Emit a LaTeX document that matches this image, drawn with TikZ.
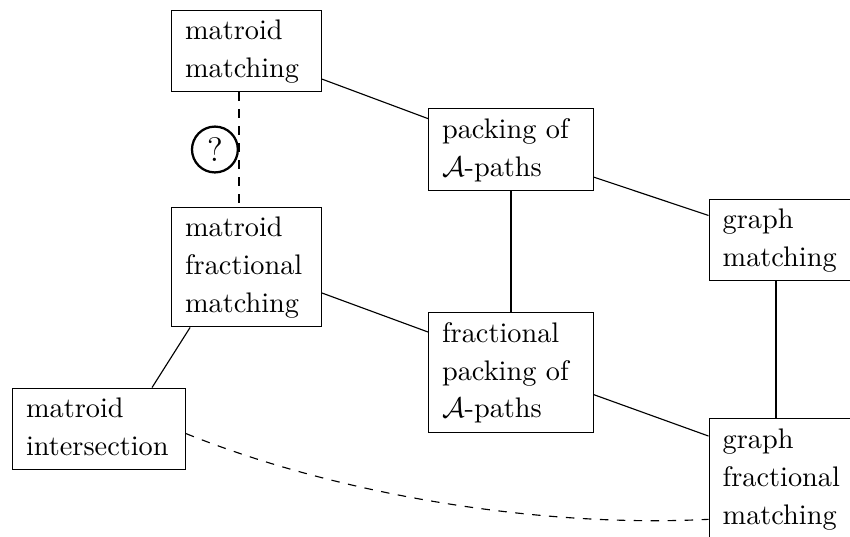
\documentclass[tikz,border=0pt]{standalone}
\usepackage{tikz}
\usetikzlibrary{positioning}

\begin{document}
\begin{tikzpicture}[
  problem/.style={
    rectangle, draw, align=left,
    inner xsep=4.8pt, inner ysep=1.05pt,
    font=\fontsize{10}{13.4}\selectfont,
    execute at begin node=\strut,
    execute at end node=\strut
  },
  open/.style={circle, draw, solid, thick, fill=white, inner sep=2.2pt, font=\large},
  link/.style={thick, dashed}
]
\useasboundingbox (0,0) rectangle (10.556,-6.657);

% Matroid column
\node[problem, text width=43.4pt] (mm) at (3.061,-0.633) {matroid\\matching};
\node[problem, text width=43.4pt] (mfm) at (3.061,-3.316) {matroid\\fractional\\matching};
\node[problem, text width=51.5pt] (mi) at (1.229,-5.328) {matroid\\intersection};

% A-paths column
\node[problem, text width=48.7pt] (pa) at (6.346,-1.857) {packing of\\$\mathcal{A}$-paths};
\node[problem, text width=48.7pt] (fpa) at (6.346,-4.626) {fractional\\packing of\\$\mathcal{A}$-paths};

% Graph column
\node[problem, text width=42pt] (gm) at (9.713,-2.981) {graph\\matching};
\node[problem, text width=42pt] (gfm) at (9.713,-5.943) {graph\\fractional\\matching};

% Edges
\draw (mm) -- (pa);
\draw (pa) -- (gm);
\draw (pa) -- (fpa);
\draw ([xshift=-0.76mm]gm.south) -- ([xshift=-0.76mm]gfm.north);
\draw (mfm.-19) -- (fpa.154);
\draw (fpa.-15) -- (gfm.150);
\draw (mfm.227) -- (mi.38);

% Open question and the dashed link
\draw[link] ([xshift=-0.93mm]mm.south) -- node[open, left] (q) {?} ([xshift=-0.93mm]mfm.north);
\draw[dashed] (mi.-3) to[out=-22, in=183, looseness=0.8] (gfm.209);

\end{tikzpicture}
\end{document}
